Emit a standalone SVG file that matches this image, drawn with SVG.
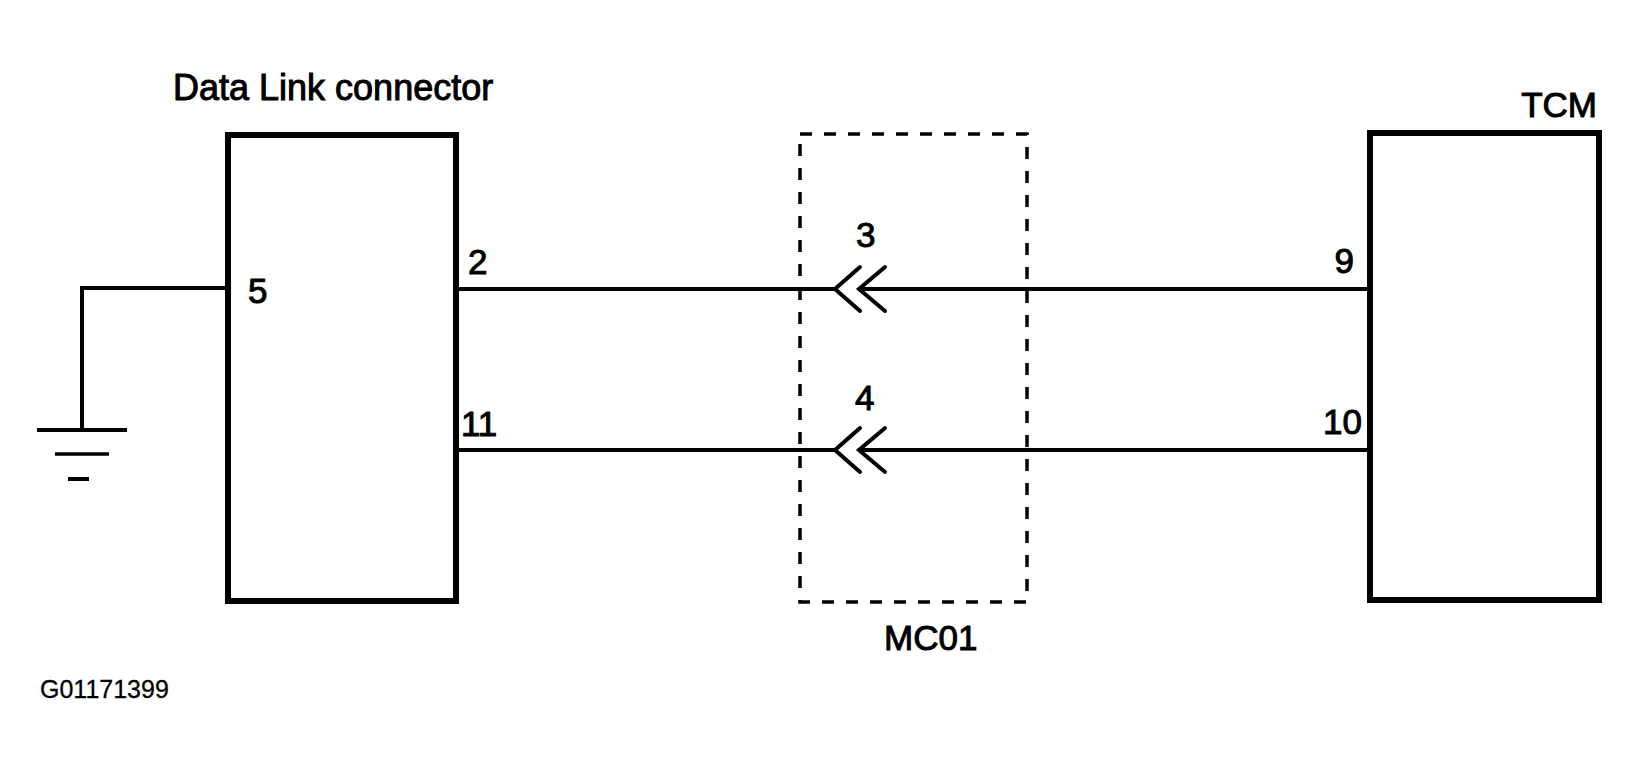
<svg xmlns="http://www.w3.org/2000/svg" width="1641" height="771" viewBox="0 0 1641 771">
<style>
.box{fill:none;stroke:#000;stroke-width:6}
.wire{fill:none;stroke:#000;stroke-width:4;stroke-linecap:butt}
.chev{fill:none;stroke:#000;stroke-width:4;stroke-linecap:round;stroke-linejoin:miter}
.dash{fill:none;stroke:#000;stroke-width:3.5;stroke-dasharray:12 12}
.t{font-family:"Liberation Sans",Arial,sans-serif;font-size:35px;fill:#000;stroke:#000;stroke-width:1}
.s{font-family:"Liberation Sans",Arial,sans-serif;font-size:25px;fill:#000;stroke:#000;stroke-width:0.3}
</style>
<rect width="1641" height="771" fill="#fff"/>
<g id="dlc">
<rect class="box" x="228" y="135" width="228" height="466"/>
<text class="t" x="173" y="100" style="font-size:36px">Data Link connector</text>
<text class="t" x="248" y="303">5</text>
<text class="t" x="468" y="274">2</text>
<text class="t" x="461" y="436">11</text>
</g>
<g id="tcm">
<rect class="box" x="1370" y="133" width="229" height="467"/>
<text class="t" x="1597" y="117" text-anchor="end">TCM</text>
<text class="t" x="1354" y="273" text-anchor="end">9</text>
<text class="t" x="1362" y="434" text-anchor="end">10</text>
</g>
<g id="mc01">
<rect class="dash" x="800" y="134" width="227" height="468"/>
<text class="t" x="884" y="650">MC01</text>
<text class="t" x="856" y="247">3</text>
<text class="t" x="855" y="410">4</text>
</g>
<g id="ground">
<line class="wire" x1="37" y1="430" x2="127" y2="430"/>
<line class="wire" x1="55" y1="454" x2="109" y2="454" style="stroke-width:3.5"/>
<line class="wire" x1="68" y1="479" x2="89" y2="479"/>
</g>
<g id="connectors">
<polyline class="wire" points="228,288 82,288 82,430"/>
<line class="wire" x1="456" y1="289" x2="835" y2="289"/>
<line class="wire" x1="859" y1="289" x2="1370" y2="289"/>
<polyline class="chev" points="860,267 835,289 860,311"/>
<polyline class="chev" points="885,267 859,289 885,311"/>
<line class="wire" x1="456" y1="450" x2="835" y2="450"/>
<line class="wire" x1="859" y1="450" x2="1370" y2="450"/>
<polyline class="chev" points="860,428 835,450 860,472"/>
<polyline class="chev" points="885,428 859,450 885,472"/>
</g>
<text class="s" x="40" y="698">G01171399</text>
</svg>
